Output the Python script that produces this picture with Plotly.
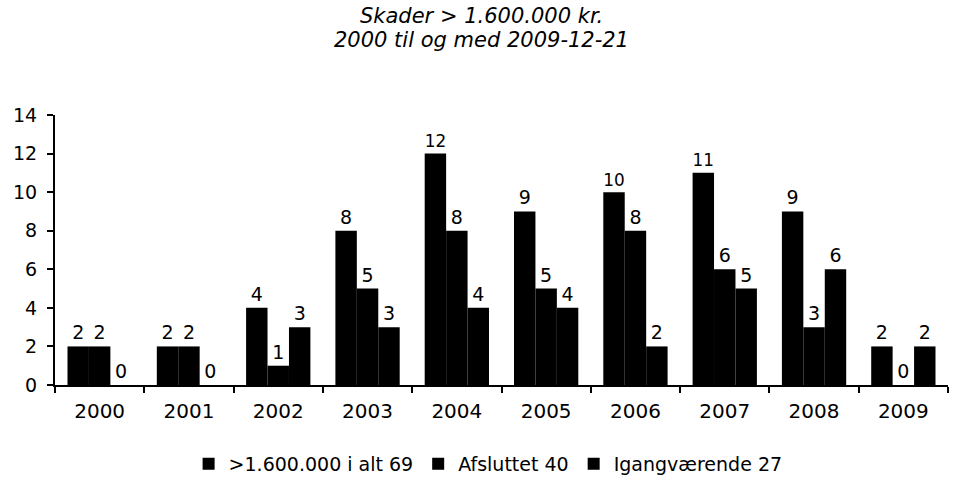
import plotly.graph_objects as go

years = ["2000", "2001", "2002", "2003", "2004", "2005", "2006", "2007", "2008", "2009"]
total = [2, 2, 4, 8, 12, 9, 10, 11, 9, 2]
afsluttet = [2, 2, 1, 5, 8, 5, 8, 6, 3, 0]
igang = [0, 0, 3, 3, 4, 4, 2, 5, 6, 2]
names = [">1.600.000 i alt 69", "Afsluttet 40", "Igangværende 27"]
title_lines = ["Skader &gt; 1.600.000 kr.", "2000 til og med 2009-12-21"]

font = "DejaVu Sans, Verdana, sans-serif"
fig = go.Figure()
for name, vals in zip(names, [total, afsluttet, igang]):
    fig.add_trace(go.Bar(
        x=years, y=vals, name=name,
        marker=dict(color="#000000", line=dict(width=0)),
        text=[str(v) for v in vals], textposition="outside",
        textfont=dict(family=font, size=19, color="#000000"),
        cliponaxis=False,
    ))

TOP, BOTTOM = 115, 385
for i, line in enumerate(title_lines):
    py = 16 + 24 * i
    fig.add_annotation(
        text="<i>" + line + "</i>", xref="paper", yref="paper",
        x=0.478, y=(BOTTOM - py) / (BOTTOM - TOP), xanchor="center", yanchor="middle",
        showarrow=False, font=dict(family=font, size=21, color="#000000"),
    )

fig.update_layout(
    width=958, height=477,
    paper_bgcolor="white", plot_bgcolor="white",
    barmode="group", bargap=0.28, bargroupgap=0,
    margin=dict(l=55, r=10, t=TOP, b=477 - BOTTOM, autoexpand=False),
    font=dict(family=font, color="#000000"),
    showlegend=True,
    legend=dict(
        orientation="h", x=0.485, xanchor="center",
        y=(477 - 464) / 477, yanchor="middle", yref="container",
        font=dict(family=font, size=19, color="#000000"),
        itemwidth=30, traceorder="normal",
    ),
    xaxis=dict(
        showline=True, linecolor="#000000", linewidth=2,
        ticks="outside", tickson="boundaries", ticklen=6, tickcolor="#000000", tickwidth=2,
        tickfont=dict(family=font, size=20, color="#000000"),
        ticklabelstandoff=7,
        showgrid=False, automargin=False,
    ),
    yaxis=dict(
        range=[0, 14], dtick=2,
        showline=True, linecolor="#000000", linewidth=2,
        ticks="outside", ticklen=6, tickcolor="#000000", tickwidth=2,
        tickfont=dict(family=font, size=19, color="#000000"),
        ticklabelstandoff=6,
        showgrid=False, zeroline=False, automargin=False,
    ),
)

fig.write_html("out.html", config={"displayModeBar": False},
               post_script="document.body.style.margin='0';")
